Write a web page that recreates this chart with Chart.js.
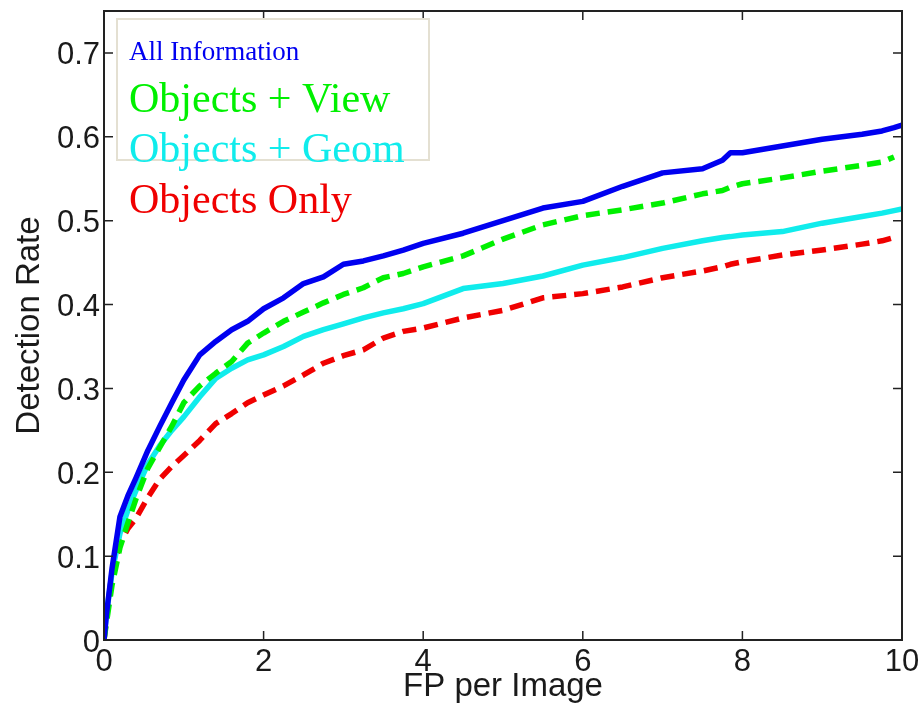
<!DOCTYPE html>
<html lang="en">
<head>
    <meta charset="UTF-8">
    <title>Detection Rate vs FP per Image</title>
    <script src="https://cdn.jsdelivr.net/npm/chart.js"></script>
    <style>
        html, body { margin: 0; padding: 0; background: #fff; }
        #wrap { width: 920px; height: 716px; }
    </style>
</head>
<body>
    <div id="wrap"><canvas id="rocChart" width="920" height="716"></canvas></div>

    <script>
        // false positives per image (shared x grid)
        const fpPerImage = [0, 0.03, 0.1, 0.2, 0.3, 0.4, 0.55, 0.7, 0.85, 1.0, 1.2, 1.4, 1.6, 1.8, 2.0, 2.25, 2.5, 2.75, 3.0, 3.25, 3.5, 3.75, 4.0, 4.5, 5.0, 5.5, 6.0, 6.5, 7.0, 7.5, 7.75, 7.85, 8.0, 8.5, 9.0, 9.5, 9.75, 9.9, 10];

        const allInformation = [0, 0.03, 0.085, 0.147, 0.172, 0.193, 0.226, 0.255, 0.283, 0.31, 0.34, 0.356, 0.37, 0.38, 0.395, 0.408, 0.425, 0.433, 0.448, 0.452, 0.458, 0.465, 0.473, 0.485, 0.5, 0.515, 0.523, 0.541, 0.557, 0.562, 0.572, 0.581, 0.581, 0.589, 0.597, 0.603, 0.607, 0.611, 0.614];
        const objectsView = [0, 0.02, 0.065, 0.11, 0.14, 0.168, 0.205, 0.23, 0.255, 0.283, 0.303, 0.318, 0.332, 0.354, 0.366, 0.38, 0.391, 0.402, 0.412, 0.42, 0.432, 0.437, 0.445, 0.458, 0.478, 0.495, 0.506, 0.513, 0.521, 0.532, 0.536, 0.54, 0.544, 0.551, 0.559, 0.566, 0.57, 0.576, null];
        const objectsGeom = [0, 0.03, 0.08, 0.127, 0.155, 0.178, 0.21, 0.232, 0.25, 0.266, 0.29, 0.312, 0.324, 0.334, 0.34, 0.35, 0.362, 0.37, 0.377, 0.384, 0.39, 0.395, 0.401, 0.419, 0.425, 0.434, 0.447, 0.456, 0.467, 0.476, 0.48, 0.481, 0.483, 0.487, 0.497, 0.505, 0.509, 0.512, 0.514];
        const objectsOnly = [0, 0.025, 0.08, 0.115, 0.133, 0.145, 0.17, 0.192, 0.207, 0.22, 0.238, 0.258, 0.27, 0.283, 0.292, 0.303, 0.316, 0.33, 0.339, 0.346, 0.36, 0.368, 0.372, 0.384, 0.393, 0.408, 0.413, 0.421, 0.432, 0.44, 0.445, 0.448, 0.451, 0.459, 0.465, 0.472, 0.476, 0.48, null];

        const xTicks = [0, 2, 4, 6, 8, 10];
        const yTicks = [0, 0.1, 0.2, 0.3, 0.4, 0.5, 0.6, 0.7];

        const seriesNames = ['All Information', 'Objects + View', 'Objects + Geom', 'Objects Only'];
        const seriesColors = ['#0000f0', '#00f000', '#10ecec', '#f00000'];
        const legendSizes = [27, 42, 42, 42];

        function points(ys) {
            return fpPerImage.map((x, i) => ({ x: x, y: ys[i] }));
        }

        // matlab-style frame: box on all sides, ticks pointing in, legend box
        const matlabFrame = {
            id: 'matlabFrame',
            beforeDraw(chart) {
                const ctx = chart.ctx;
                ctx.save();
                ctx.fillStyle = '#fff';
                ctx.fillRect(0, 0, chart.width, chart.height);
                ctx.restore();
            },
            afterDatasetsDraw(chart) {
                const { ctx, chartArea: a, scales } = chart;
                ctx.save();
                ctx.strokeStyle = '#222';
                ctx.lineWidth = 2;
                ctx.strokeRect(a.left, a.top, a.right - a.left, a.bottom - a.top);
                ctx.lineWidth = 1.5;
                const len = 9;
                ctx.beginPath();
                xTicks.forEach(v => {
                    const px = scales.x.getPixelForValue(v);
                    ctx.moveTo(px, a.bottom); ctx.lineTo(px, a.bottom - len);
                    ctx.moveTo(px, a.top); ctx.lineTo(px, a.top + len);
                });
                yTicks.forEach(v => {
                    const py = scales.y.getPixelForValue(v);
                    ctx.moveTo(a.left, py); ctx.lineTo(a.left + len, py);
                    ctx.moveTo(a.right, py); ctx.lineTo(a.right - len, py);
                });
                ctx.stroke();

                // legend box
                ctx.fillStyle = '#fff';
                ctx.fillRect(117, 19, 312, 141);
                ctx.strokeStyle = '#e4e0d2';
                ctx.lineWidth = 2;
                ctx.strokeRect(117, 19, 312, 141);
                const baselines = [60, 112, 162, 213];
                ctx.textAlign = 'left';
                ctx.textBaseline = 'alphabetic';
                seriesNames.forEach((name, i) => {
                    ctx.font = legendSizes[i] + 'px "Liberation Serif", "Times New Roman", serif';
                    ctx.fillStyle = seriesColors[i];
                    ctx.fillText(name, 129, baselines[i]);
                });
                ctx.restore();
            }
        };

        const tickFont = { family: '"Liberation Sans", Arial, sans-serif', size: 31 };
        const titleFont = { family: '"Liberation Sans", Arial, sans-serif', size: 33 };

        new Chart(document.getElementById('rocChart'), {
            type: 'scatter',
            data: {
                datasets: [
                    { label: seriesNames[0], data: points(allInformation), borderColor: seriesColors[0], borderWidth: 5.5 },
                    { label: seriesNames[1], data: points(objectsView), borderColor: seriesColors[1], borderWidth: 5.5, borderDash: [14, 8] },
                    { label: seriesNames[2], data: points(objectsGeom), borderColor: seriesColors[2], borderWidth: 5.5 },
                    { label: seriesNames[3], data: points(objectsOnly), borderColor: seriesColors[3], borderWidth: 5.5, borderDash: [14, 8] }
                ].map(d => Object.assign(d, { showLine: true, pointRadius: 0, tension: 0, borderJoinStyle: 'round', fill: false }))
            },
            options: {
                responsive: false,
                animation: false,
                layout: { padding: { top: 11, right: 18, left: 0, bottom: 0 } },
                plugins: { legend: { display: false }, tooltip: { enabled: false } },
                scales: {
                    x: {
                        type: 'linear', min: 0, max: 10,
                        grid: { display: false, drawTicks: false },
                        border: { display: false },
                        ticks: { stepSize: 2, font: tickFont, color: '#1a1a1a', padding: 4, maxRotation: 0 },
                        title: { display: true, text: 'FP per Image', font: titleFont, color: '#1a1a1a', padding: { top: 0, bottom: 9 } },
                        afterFit(scale) {
                            scale.height = 76;
                            scale.paddingLeft = 0;
                            scale.paddingRight = 0;
                        }
                    },
                    y: {
                        min: 0, max: 0.75,
                        grid: { display: false, drawTicks: false },
                        border: { display: false },
                        afterBuildTicks(scale) {
                            scale.ticks = yTicks.map(v => ({ value: v }));
                        },
                        ticks: { font: tickFont, color: '#1a1a1a', padding: 4, labelOffset: 3, callback: v => String(Math.round(v * 10) / 10) },
                        title: { display: true, text: 'Detection Rate', font: titleFont, color: '#1a1a1a', padding: { top: 10, bottom: 0 } },
                        afterFit(scale) {
                            scale.width = 104;
                            scale.paddingTop = 0;
                            scale.paddingBottom = 0;
                        }
                    }
                }
            },
            plugins: [matlabFrame]
        });
    </script>
</body>
</html>
